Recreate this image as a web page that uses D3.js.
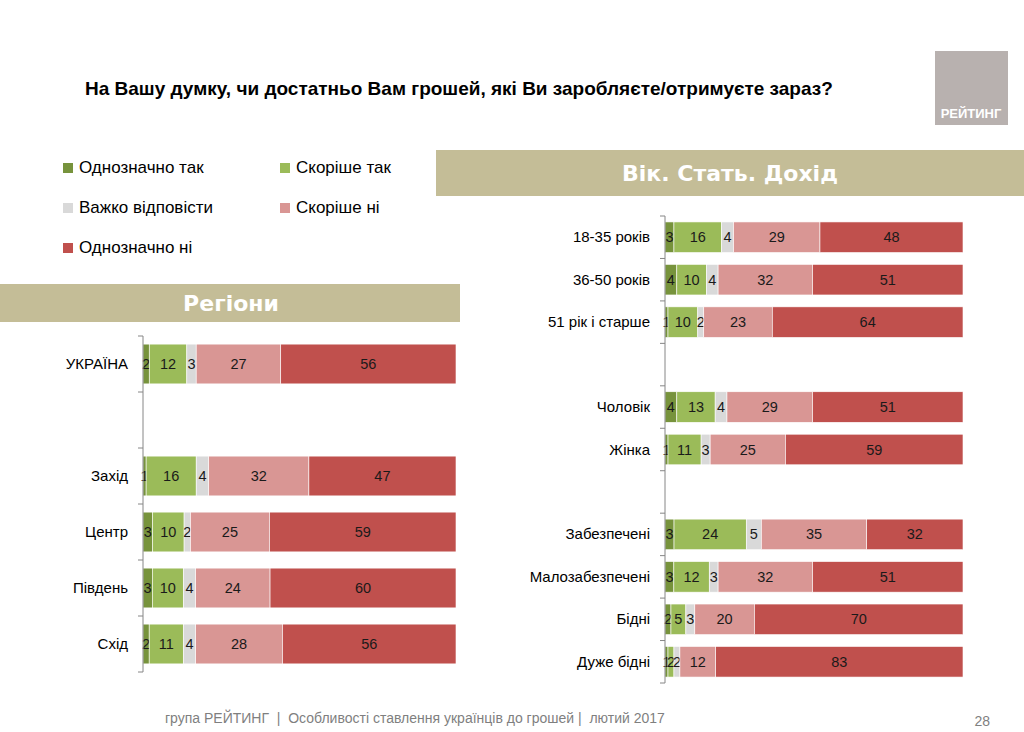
<!DOCTYPE html>
<html lang="uk">
<head>
<meta charset="UTF-8"/>
<script src="https://d3js.org/d3.v7.min.js"></script>
<style>
body { margin: 0; background: #fff; }
svg { display: block; font-family: 'Liberation Sans', Arial, sans-serif; }
text.title { font-size: 19px; font-weight: bold; fill: #000; }
text.legend { font-size: 17px; fill: #000; }
text.band { font-family: 'DejaVu Sans', sans-serif; font-size: 22px; font-weight: bold; fill: #fff; }
text.cat { font-size: 15px; fill: #000; }
text.value { font-size: 14.5px; fill: #1a1a1a; }
text.footer { font-size: 14px; fill: #7f7f7f; white-space: pre; }
.axis path, .axis line { stroke: #868686; }
</style>
</head>
<body>
<svg width="1024" height="732"></svg>
<script>
// answers and colours
const answers = ['Однозначно так', 'Скоріше так', 'Важко відповісти', 'Скоріше ні', 'Однозначно ні'];
const colors = ['#77933c', '#9bbb59', '#d9d9d9', '#d99694', '#c0504d'];

// Регіони ('' = gap row)
const regionCats = ['УКРАЇНА', '', 'Захід', 'Центр', 'Південь', 'Схід'];
const regDefYes    = [2, null, 1, 3, 3, 2];
const regRatherYes = [12, null, 16, 10, 10, 11];
const regHard      = [3, null, 4, 2, 4, 4];
const regRatherNo  = [27, null, 32, 25, 24, 28];
const regDefNo     = [56, null, 47, 59, 60, 56];

// Вік. Стать. Дохід
const groupCats = ['18-35 років', '36-50 років', '51 рік і старше', '', 'Чоловік', 'Жінка', '',
                   'Забезпечені', 'Малозабезпечені', 'Бідні', 'Дуже бідні'];
const grpDefYes    = [3, 4, 1, null, 4, 1, null, 3, 3, 2, 1];
const grpRatherYes = [16, 10, 10, null, 13, 11, null, 24, 12, 5, 2];
const grpHard      = [4, 4, 2, null, 4, 3, null, 5, 3, 3, 2];
const grpRatherNo  = [29, 32, 23, null, 29, 25, null, 35, 32, 20, 12];
const grpDefNo     = [48, 51, 64, null, 51, 59, null, 32, 51, 70, 83];

const svg = d3.select('svg');

svg.append('text').attr('class', 'title')
  .attr('x', 85).attr('y', 95)
  .text('На Вашу думку, чи достатньо Вам грошей, які Ви заробляєте/отримуєте зараз?');

// logo
svg.append('rect').attr('x', 935).attr('y', 51).attr('width', 73).attr('height', 74).attr('fill', '#b8b1af');
svg.append('text').attr('x', 971).attr('y', 118).attr('text-anchor', 'middle')
  .style('font-size', '13px').style('font-weight', 'bold').attr('fill', '#fff').text('РЕЙТИНГ');

// legend
const legendPos = [[63, 173], [280, 173], [63, 213], [280, 213], [63, 253]];
answers.forEach((a, i) => {
  const [lx, ly] = legendPos[i];
  svg.append('rect').attr('x', lx).attr('y', ly - 10).attr('width', 10).attr('height', 10).attr('fill', colors[i]);
  svg.append('text').attr('class', 'legend').attr('x', lx + 16).attr('y', ly).text(a);
});

// section bands
svg.append('rect').attr('x', 0).attr('y', 284).attr('width', 460).attr('height', 38).attr('fill', '#c4bd97');
svg.append('text').attr('class', 'band').attr('x', 231).attr('y', 311).attr('text-anchor', 'middle').text('Регіони');
svg.append('rect').attr('x', 436).attr('y', 150).attr('width', 588).attr('height', 46).attr('fill', '#c4bd97');
svg.append('text').attr('class', 'band').attr('x', 730).attr('y', 181).attr('text-anchor', 'middle').text('Вік. Стать. Дохід');

function drawChart(cats, series, x0, x1, y0, y1, pad) {
  const rows = cats.map((c, i) => {
    const r = { idx: i, cat: c };
    series.forEach((s, k) => { r[answers[k]] = s[i] || 0; });
    return r;
  });
  const stack = d3.stack().keys(answers).offset(d3.stackOffsetExpand);
  const layers = stack(rows.filter(r => r.cat !== ''));

  const x = d3.scaleLinear().domain([0, 1]).range([x0, x1]);
  const y = d3.scaleBand().domain(d3.range(cats.length)).range([y0, y1]).paddingInner(pad).paddingOuter(pad / 2);

  const g = svg.append('g');
  layers.forEach((layer, k) => {
    const lg = g.append('g');
    lg.selectAll('rect').data(layer).join('rect')
      .attr('x', d => x(d[0])).attr('width', d => x(d[1]) - x(d[0]))
      .attr('y', d => y(d.data.idx)).attr('height', y.bandwidth())
      .attr('fill', colors[k]).attr('stroke', '#fff').attr('stroke-width', 0.6);
    lg.selectAll('text').data(layer).join('text').attr('class', 'value')
      .attr('x', d => (x(d[0]) + x(d[1])) / 2).attr('y', d => y(d.data.idx) + y.bandwidth() / 2 + 5)
      .attr('text-anchor', 'middle')
      .text(d => d.data[answers[k]]);
  });

  // axis with ticks on band edges
  const axis = g.append('g').attr('class', 'axis');
  axis.append('line').attr('x1', x0).attr('x2', x0).attr('y1', y0).attr('y2', y1);
  d3.range(cats.length + 1).forEach(i => {
    const ty = y0 + i * y.step();
    axis.append('line').attr('x1', x0 - 5).attr('x2', x0).attr('y1', ty).attr('y2', ty);
  });
  g.selectAll('text.cat').data(rows.filter(r => r.cat !== '')).join('text').attr('class', 'cat')
    .attr('x', x0 - 15).attr('y', d => y(d.idx) + y.bandwidth() / 2 + 5)
    .attr('text-anchor', 'end').text(d => d.cat);
}

drawChart(regionCats, [regDefYes, regRatherYes, regHard, regRatherNo, regDefNo], 143, 456, 336, 672, 0.29);
drawChart(groupCats, [grpDefYes, grpRatherYes, grpHard, grpRatherNo, grpDefNo], 665, 963, 216, 683, 0.28);

// footer
svg.append('text').attr('class', 'footer').attr('x', 165).attr('y', 723)
  .text('група РЕЙТИНГ  |  Особливості ставлення українців до грошей |  лютий 2017');
svg.append('text').attr('class', 'footer').attr('x', 990).attr('y', 726).attr('text-anchor', 'end').text('28');
</script>
</body>
</html>
